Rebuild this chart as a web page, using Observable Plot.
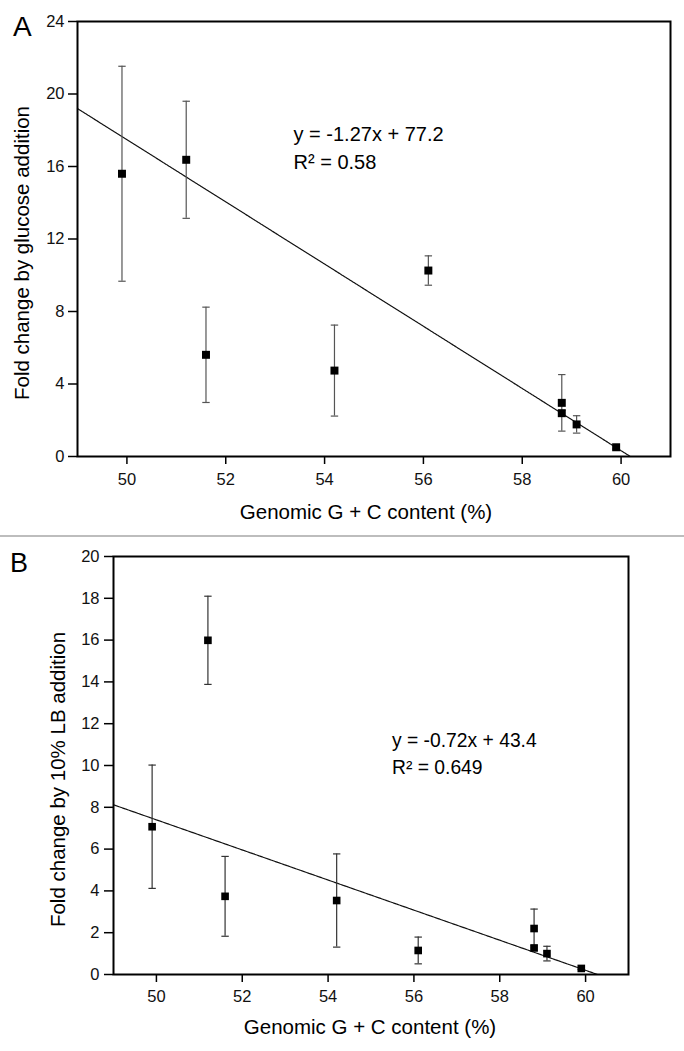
<!DOCTYPE html>
<html><head><meta charset="utf-8">
<script src="https://cdn.jsdelivr.net/npm/d3@7"></script>
<script src="https://cdn.jsdelivr.net/npm/@observablehq/plot@0.6"></script>
<style>
body{margin:0;background:#fff;width:684px;height:1051px;overflow:hidden}
svg{display:block}
#sep{height:2px;background:#bdbdbd;width:684px}
</style></head><body>
<div id="a"></div><div id="sep"></div><div id="b"></div>
<script>
// ---- data ----
const gcContent   = [49.9, 51.2, 51.6, 54.2, 56.1, 58.8, 58.8, 59.1, 59.9];
const foldGlucose = [15.6, 16.37, 5.61, 4.74, 10.26, 2.96, 2.39, 1.77, 0.51];
const sdGlucose   = [5.93, 3.23, 2.63, 2.51, 0.81, 1.56, 0.15, 0.48, 0.1];
const foldLB      = [7.07, 15.99, 3.74, 3.54, 1.15, 2.20, 1.27, 1.00, 0.29];
const sdLB        = [2.95, 2.11, 1.91, 2.23, 0.64, 0.93, 0.1, 0.35, 0.05];
const xTicks  = [50, 52, 54, 56, 58, 60];
const yTicksA = [0, 4, 8, 12, 16, 20, 24];
const yTicksB = [0, 2, 4, 6, 8, 10, 12, 14, 16, 18, 20];
const panelLabels = ["A", "B"];
const yTitles = ["Fold change by glucose addition", "Fold change by 10% LB addition"];
const xTitle = "Genomic G + C content (%)";
const equations = ["y = -1.27x + 77.2", "y = -0.72x + 43.4"];
const r2Texts = ["R\u00b2 = 0.58", "R\u00b2 = 0.649"];
// trend lines as drawn (slope, intercept)
const fitSlope = [-1.716, -0.72];
const fitIntercept = [103.28, 43.4];

const font = "Liberation Sans, Arial, Helvetica, sans-serif";
const capSymbol = {draw(ctx, size) { const w = Math.sqrt(size / Math.PI); ctx.moveTo(-w, 0); ctx.lineTo(w, 0); }};

function panel(i, o) {
  const fold = i === 0 ? foldGlucose : foldLB;
  const sd = i === 0 ? sdGlucose : sdLB;
  const rows = gcContent.map((x, k) => ({x, y: fold[k], lo: fold[k] - sd[k], hi: fold[k] + sd[k]}));
  const x0 = 49, x1 = -fitIntercept[i] / fitSlope[i];
  const fit = [x0, x1].map(x => ({x, y: fitSlope[i] * x + fitIntercept[i]}));
  return Plot.plot({
    width: 684, height: o.height,
    marginTop: o.mt, marginRight: o.mr, marginBottom: o.mb, marginLeft: o.ml,
    style: {fontFamily: font, fontSize: "16.5px", color: "#000", background: "#fff", overflow: "visible"},
    x: {domain: [49, 61]},
    y: {domain: o.yDomain},
    marks: [
      Plot.axisX({ticks: xTicks, tickSize: 8, tickPadding: o.xpad, label: null, strokeWidth: 1.5, tickFormat: d => d, fontSize: 16.5, fill: "#111"}),
      Plot.axisY({ticks: o.yTicks, tickSize: 9, tickPadding: o.ypad, label: null, strokeWidth: 1.5, tickFormat: d => d, fontSize: 16.5, fill: "#111"}),
      Plot.line(fit, {x: "x", y: "y", stroke: "#111", strokeWidth: 1.2, strokeDasharray: "2.5,0.8"}),
      Plot.ruleX(rows, {x: "x", y1: "lo", y2: "hi", stroke: o.err, strokeWidth: 1.2}),
      Plot.dot(rows, {x: "x", y: "hi", symbol: capSymbol, r: 3.7, stroke: o.err, strokeWidth: 1.2, fill: "none"}),
      Plot.dot(rows, {x: "x", y: "lo", symbol: capSymbol, r: 3.7, stroke: o.err, strokeWidth: 1.2, fill: "none"}),
      Plot.dot(rows, {x: "x", y: "y", symbol: "square", r: o.r, fill: "#000", stroke: "none"}),
      Plot.frame({stroke: "#000", strokeWidth: 2}),
      Plot.text([panelLabels[i]], {text: d => d, frameAnchor: "top-left", textAnchor: "start", lineAnchor: "bottom", dx: o.ldx, dy: o.ldy, fontSize: o.lfs}),
      Plot.text([yTitles[i]], {text: d => d, frameAnchor: "left", rotate: -90, textAnchor: "middle", lineAnchor: "bottom", dx: -49, dy: 14, fontSize: 20.5}),
      Plot.text([xTitle], {text: d => d, frameAnchor: "bottom", textAnchor: "middle", lineAnchor: "bottom", dx: o.tdx, dy: o.tdy, fontSize: 20.5}),
      Plot.text([equations[i]], {text: d => d, frameAnchor: "top-left", textAnchor: "start", lineAnchor: "bottom", dx: o.edx, dy: o.edy, fontSize: o.efs}),
      Plot.text([r2Texts[i]], {text: d => d, frameAnchor: "top-left", textAnchor: "start", lineAnchor: "bottom", dx: o.edx, dy: o.edy + o.egap, fontSize: o.efs})
    ]
  });
}

document.getElementById("a").append(panel(0, {
  height: 535, mt: 21, mr: 14, mb: 79, ml: 77, yDomain: [0, 24], yTicks: yTicksA,
  xpad: 9, ypad: 4, err: "#555", r: 4.5,
  ldx: -64.5, ldy: 14, lfs: 28, tdx: -8, tdy: 62.5,
  edx: 216, edy: 119, egap: 28, efs: 20
}));
document.getElementById("b").append(panel(1, {
  height: 514, mt: 19, mr: 56, mb: 77, ml: 113, yDomain: [0, 20], yTicks: yTicksB,
  xpad: 8, ypad: 5, err: "#333", r: 4.3,
  ldx: -103.5, ldy: 15.7, lfs: 27, tdx: -1, tdy: 59,
  edx: 278.5, edy: 190.7, egap: 26.6, efs: 19.3
}));
</script>
</body></html>
